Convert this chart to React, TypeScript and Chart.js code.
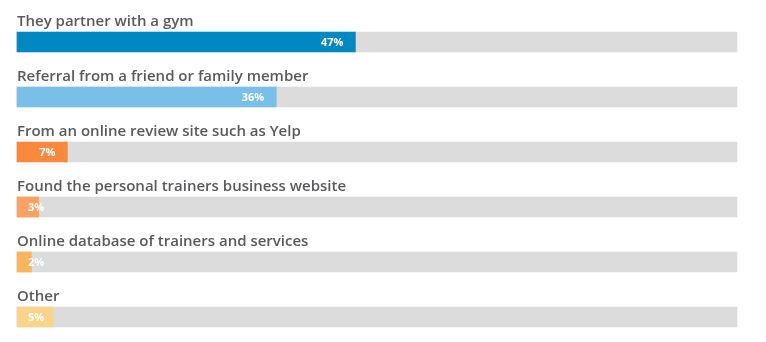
import React, { useEffect, useRef } from "react";
import { Chart, registerables } from "chart.js";

Chart.register(...registerables);

const categories = [
  "They partner with a gym",
  "Referral from a friend or family member",
  "From an online review site such as Yelp",
  "Found the personal trainers business website",
  "Online database of trainers and services",
  "Other",
];
const values = [47, 36, 7, 3, 2, 5];
const totals = [100, 100, 100, 100, 100, 100];
const barColors = ["#0088c3", "#79bfe9", "#fb893d", "#f9a263", "#fab55c", "#fbd48c"];

const labelsPlugin = {
  id: "rowLabels",
  afterDatasetsDraw(chart: any) {
    const ctx = chart.ctx;
    const meta = chart.getDatasetMeta(0);
    const left = chart.chartArea.left;
    ctx.save();
    meta.data.forEach((bar: any, i: number) => {
      const top = bar.y - bar.height / 2;
      // category label
      ctx.font = "600 15px 'Open Sans'";
      ctx.fillStyle = "#5a5a5c";
      ctx.textAlign = "left";
      ctx.textBaseline = "alphabetic";
      ctx.fillText(categories[i], left, top - 6);
      // value label
      const txt = values[i] + "%";
      ctx.font = "bold 11px 'Open Sans'";
      const w = ctx.measureText(txt).width;
      const x = Math.max(left + 11, bar.x - 12 - w);
      ctx.fillStyle = "#ffffff";
      ctx.textBaseline = "middle";
      ctx.fillText(txt, x, bar.y + 1);
    });
    ctx.restore();
  },
};

export default function App() {
  const ref = useRef<HTMLCanvasElement | null>(null);
  useEffect(() => {
    if (!ref.current) return;
    const chart = new Chart(ref.current, {
      type: "bar",
      data: {
        labels: categories,
        datasets: [
          {
            data: values,
            backgroundColor: barColors,
            grouped: false,
            barThickness: 20,
            clip: false as any,
          },
          {
            data: totals,
            backgroundColor: "#dcdcdc",
            grouped: false,
            barThickness: 20,
            clip: false as any,
          },
        ],
      },
      options: {
        indexAxis: "y",
        animation: false,
        responsive: false,
        maintainAspectRatio: false,
        layout: { padding: { left: 17, right: 29, top: 42, bottom: 25 } },
        plugins: { legend: { display: false }, tooltip: { enabled: false } },
        scales: {
          x: { min: 0, max: 100, display: false },
          y: { type: "category", offset: false, display: false },
        },
      },
      plugins: [labelsPlugin],
    });
    return () => chart.destroy();
  }, []);
  return (
    <div style={{ position: "absolute", left: 0, top: 0, width: 766, height: 342, background: "#fff" }}>
      <canvas ref={ref} width={766} height={342} style={{ display: "block" }} />
    </div>
  );
}
